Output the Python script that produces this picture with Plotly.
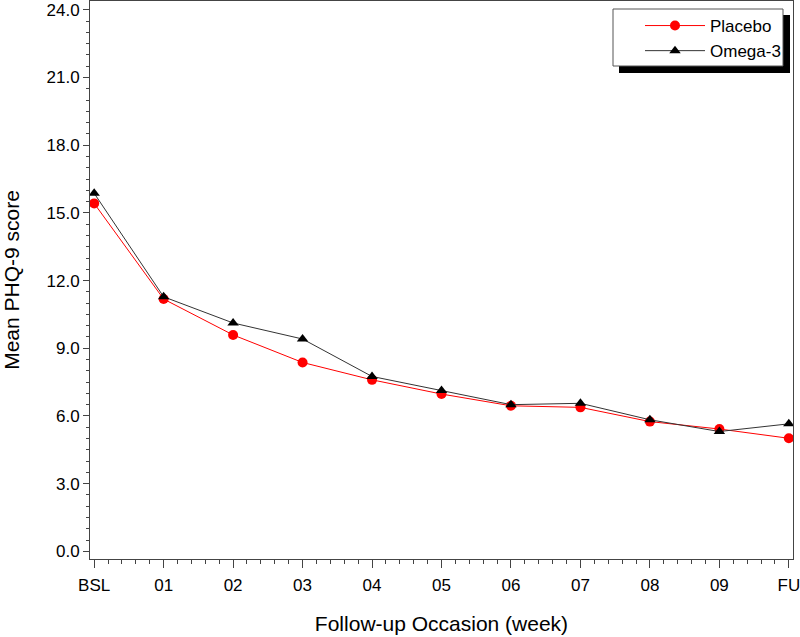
import plotly.graph_objects as go

# follow-up occasions and mean PHQ-9 scores
occasions = ["BSL", "01", "02", "03", "04", "05", "06", "07", "08", "09", "FU"]
placebo = [15.42, 11.18, 9.59, 8.37, 7.60, 6.97, 6.45, 6.38, 5.75, 5.42, 5.01]
omega3 = [15.87, 11.28, 10.12, 9.41, 7.75, 7.13, 6.50, 6.56, 5.83, 5.31, 5.65]

x_pos = list(range(len(occasions)))
font_family = "Liberation Sans, Arial, sans-serif"

fig = go.Figure()
fig.add_trace(go.Scatter(
    x=x_pos, y=placebo, name="Placebo", mode="lines+markers",
    line=dict(color="#ff0000", width=1),
    marker=dict(symbol="circle", size=10, color="#ff0000"),
))
fig.add_trace(go.Scatter(
    x=x_pos, y=omega3, name="Omega-3", mode="lines+markers",
    line=dict(color="#333333", width=1),
    marker=dict(symbol="triangle-up", size=10, color="#000000"),
))

axis_common = dict(
    showline=True, linecolor="#444444", linewidth=1, mirror=True,
    showgrid=False, zeroline=False, ticks="outside", tickcolor="#444444",
    automargin=False, ticklabeloverflow="allow",
    tickfont=dict(size=17, color="#000000", family=font_family),
)

fig.update_xaxes(
    range=[-0.06, 10.06],
    tickvals=x_pos, ticktext=occasions,
    ticklen=8, ticklabelstandoff=3,
    minor=dict(dtick=0.2, tick0=0, ticks="outside", ticklen=4, tickcolor="#444444"),
    title=dict(text="Follow-up Occasion (week)", font=dict(size=21, family=font_family, color="#000000"), standoff=21),
    **axis_common,
)
fig.update_yaxes(
    range=[-0.34, 24.39],
    tick0=0, dtick=3, tickformat=".1f", ticklen=6,
    minor=dict(dtick=0.5, tick0=0, ticks="outside", ticklen=3, tickcolor="#444444"),
    title=dict(text="Mean PHQ-9 score", font=dict(size=21, family=font_family, color="#000000"), standoff=21),
    **axis_common,
)

def px_x(p):
    return (p - 90) / 703

def px_y(p):
    return (559 - p) / 558

# legend box with drop shadow (drawn as shapes, legend itself transparent)
fig.add_shape(type="rect", xref="paper", yref="paper",
              x0=px_x(619), x1=px_x(790), y0=px_y(73), y1=px_y(15),
              fillcolor="#000000", line=dict(width=0), layer="above")
fig.add_shape(type="rect", xref="paper", yref="paper",
              x0=px_x(613), x1=px_x(783), y0=px_y(66), y1=px_y(9),
              fillcolor="white", line=dict(color="#555555", width=1), layer="above")

fig.update_layout(
    width=800, height=637,
    margin=dict(l=90, r=7, t=1, b=78),
    plot_bgcolor="white", paper_bgcolor="white",
    font=dict(family=font_family, color="#000000"),
    legend=dict(
        x=px_x(640), y=px_y(8), xanchor="left", yanchor="top",
        bgcolor="rgba(0,0,0,0)", borderwidth=0,
        font=dict(size=17, family=font_family), itemwidth=60,
        tracegroupgap=0,
    ),
    showlegend=True,
)

# drop the browser's default body margin so the figure sits at the page origin
fig.write_html("out.html", config={"displayModeBar": False},
               post_script="document.body.style.margin='0';")
